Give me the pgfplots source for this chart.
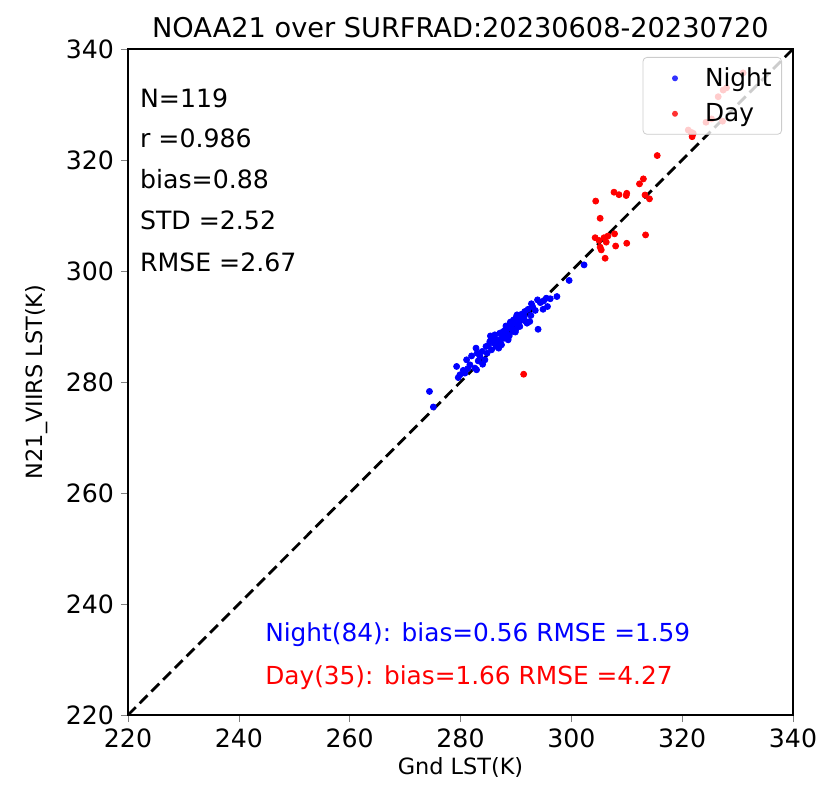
\documentclass[border=0pt]{standalone}
\usepackage{pgfplots}
\pgfplotsset{compat=1.18}
\usepackage{fontspec}
\setmainfont{DejaVu Sans}
\begin{document}
\begin{tikzpicture}
\begin{axis}[
  scale only axis,
  width=332.5pt, height=333pt,
  xmin=220, xmax=340, ymin=220, ymax=340,
  xtick={220,240,...,340}, ytick={220,240,...,340},
  xtick pos=left, ytick pos=left,
  /pgf/number format/assume math mode=true,
  /pgf/number format/1000 sep={},
  tick label style={font=\fontsize{12.6}{14}\selectfont},
  tick align=outside,
  major tick length=3.5pt,
  xlabel={Gnd LST(K)}, ylabel={N21\_VIIRS LST(K)},
  label style={font=\fontsize{11.2}{13}\selectfont},
  xlabel style={yshift=2pt},
  ylabel style={yshift=2pt},
  title={NOAA21 over SURFRAD:20230608-20230720},
  title style={font=\fontsize{13.6}{15}\selectfont, yshift=-4pt},
  axis line style={line width=0.7pt},
  legend style={at={(0.9835,0.988)}, anchor=north east, draw=black!20, rounded corners=2pt,
    fill=white, fill opacity=0.8, text opacity=1, font=\fontsize{12.4}{14}\selectfont,
    row sep=3pt, inner xsep=3pt, inner ysep=3pt},
  legend image code/.code={\path[draw=none,fill=none] (0pt,0pt) -- (26pt,0pt); \path[#1,draw=none,fill] (13pt,0pt) circle (1.5pt);},
  legend cell align=left,
]
\addplot[only marks, mark=*, mark size=1.5pt, color=blue] table {
x y
299.6 298.3
297.4 295.4
295.5 295.1
295.7 293.6
294.9 293.1
293.9 294.8
292.8 294.1
292.2 293.1
291.6 292.7
292.5 290.9
292.0 290.6
294.0 289.5
290.1 291.8
289.6 291.2
288.9 290.3
290.7 290.0
289.5 289.1
288.3 288.8
287.1 288.8
286.2 288.5
285.6 287.9
286.8 287.6
288.6 287.6
285.3 287.3
287.4 286.7
286.5 286.4
282.8 286.1
285.6 285.8
282.0 284.7
283.5 284.6
284.4 284.0
281.1 284.0
281.7 283.1
282.6 282.5
279.3 282.8
282.9 282.2
279.9 281.3
279.6 280.8
274.4 278.3
275.1 275.5
302.3 301.1
289.0 290.8
289.8 290.6
290.3 291.0
290.9 291.5
291.2 291.2
290.0 289.5
289.2 289.8
288.1 289.4
287.7 289.1
288.8 288.3
287.9 287.9
287.2 287.4
286.0 287.0
286.9 286.1
285.0 286.6
284.8 285.2
283.9 285.5
283.2 283.8
283.0 285.2
280.5 282.1
280.8 281.6
281.3 282.4
284.0 283.2
286.1 288.0
287.5 288.3
288.5 289.6
289.3 290.9
290.5 290.5
291.0 292.2
291.5 291.8
293.0 293.6
293.5 292.9
294.4 294.3
295.0 294.6
296.2 295.0
292.7 292.0
291.8 290.9
290.2 292.1
289.9 289.0
288.2 290.1
286.6 287.1
285.4 288.3
284.6 286.4
};
\addlegendentry{Night}
\addplot[only marks, mark=*, mark size=1.5pt, color=red] table {
x y
321.8 324.2
315.5 320.8
313.0 316.6
312.3 315.7
307.7 314.2
308.6 313.75
310.0 314.0
309.9 313.6
313.3 313.7
314.1 313.0
304.4 312.6
305.2 309.5
304.3 306.0
305.9 306.0
307.8 306.7
306.3 305.2
305.2 304.3
305.4 303.8
308.0 304.5
310.0 305.0
313.4 306.5
306.1 302.3
291.4 281.4
321.1 325.4
321.6 325.0
324.3 326.8
325.3 327.4
327.3 327.0
326.5 331.4
327.4 332.6
331.0 335.7
305.0 305.5
306.6 306.3
322.0 324.8
328.0 333.0
};
\addlegendentry{Day}
\addplot[black, line width=1.4pt, dash pattern=on 5.5pt off 2.8pt, forget plot] coordinates {(220,220) (340,340)};
\node[anchor=west, font=\fontsize{12.6}{14}\selectfont] at (axis cs:220.9,331.2) {N=119};
\node[anchor=west, font=\fontsize{12.6}{14}\selectfont] at (axis cs:220.9,323.9) {r =0.986};
\node[anchor=west, font=\fontsize{12.6}{14}\selectfont] at (axis cs:220.9,316.5) {bias=0.88};
\node[anchor=west, font=\fontsize{12.6}{14}\selectfont] at (axis cs:220.9,309.2) {STD =2.52};
\node[anchor=west, font=\fontsize{12.6}{14}\selectfont] at (axis cs:220.9,301.6) {RMSE =2.67};
\node[anchor=west, font=\fontsize{12.4}{14}\selectfont, text=blue] at (axis cs:243.5,234.4) {Night(84): bias=0.56 RMSE =1.59};
\node[anchor=west, font=\fontsize{12.4}{14}\selectfont, text=red] at (axis cs:243.5,226.8) {Day(35): bias=1.66 RMSE =4.27};
\path (rel axis cs:0,0) ++(-64pt,-37pt) coordinate (bl);
\path (rel axis cs:1,1) ++(14pt,24.5pt) coordinate (tr);
\end{axis}
\pgfresetboundingbox
\useasboundingbox (bl) rectangle (tr);
\end{tikzpicture}
\end{document}
